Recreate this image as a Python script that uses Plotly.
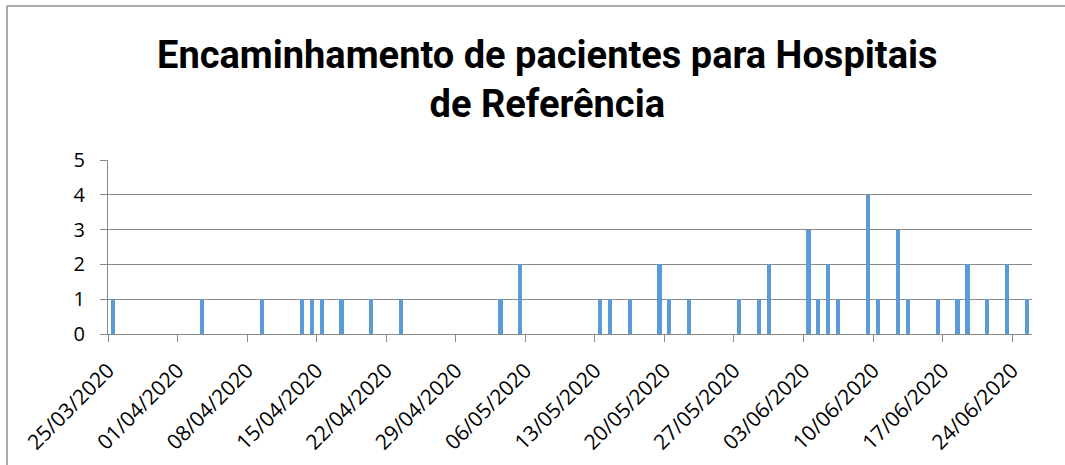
import plotly.graph_objects as go

# Data
dates = [
    "2020-03-25", "2020-04-03", "2020-04-09", "2020-04-13", "2020-04-14",
    "2020-04-15", "2020-04-17", "2020-04-20", "2020-04-23", "2020-05-03",
    "2020-05-05", "2020-05-13", "2020-05-14", "2020-05-16", "2020-05-19",
    "2020-05-20", "2020-05-22", "2020-05-27", "2020-05-29", "2020-05-30",
    "2020-06-03", "2020-06-04", "2020-06-05", "2020-06-06", "2020-06-09",
    "2020-06-10", "2020-06-12", "2020-06-13", "2020-06-16", "2020-06-18",
    "2020-06-19", "2020-06-21", "2020-06-23", "2020-06-25",
]
values = [
    1, 1, 1, 1, 1,
    1, 1, 1, 1, 1,
    2, 1, 1, 1, 2,
    1, 1, 1, 1, 2,
    3, 1, 2, 1, 4,
    1, 3, 1, 1, 1,
    2, 1, 2, 1,
]
tick_dates = [
    "2020-03-25", "2020-04-01", "2020-04-08", "2020-04-15", "2020-04-22",
    "2020-04-29", "2020-05-06", "2020-05-13", "2020-05-20", "2020-05-27",
    "2020-06-03", "2020-06-10", "2020-06-17", "2020-06-24",
]
x_range = ["2020-03-25", "2020-06-26"]
title_text = "Encaminhamento de pacientes para Hospitais<br>de Referência"

DAY_MS = 86400000
GRID = "#8a8a8a"
LABEL_FONT = "Open Sans, Liberation Sans, sans-serif"

# layout geometry (page pixels; body margin removed via post_script)
W, H = 1065, 465
ML, MR, MT, MB = 108, 33, 160, 131
PW = W - ML - MR
PH = H - MT - MB

fig = go.Figure()
fig.add_trace(go.Bar(
    x=dates, y=values,
    xperiod=DAY_MS, xperiodalignment="middle",
    width=0.42 * DAY_MS,
    marker=dict(color="#5B9BD5", line=dict(width=0)),
    hoverinfo="x+y",
))

fig.update_layout(
    width=W, height=H, autosize=False,
    margin=dict(l=ML, r=MR, t=MT, b=MB, autoexpand=False),
    paper_bgcolor="white", plot_bgcolor="white",
    showlegend=False,
    bargap=0,
)

fig.add_annotation(
    text="<b>" + title_text + "</b>",
    xref="paper", yref="paper",
    x=(547 - ML) / PW, y=(MT + PH - 79) / PH,
    xanchor="center", yanchor="middle",
    showarrow=False, align="center",
    font=dict(family="Roboto, sans-serif", size=38, color="black"),
)

fig.update_xaxes(
    type="date", range=x_range, automargin=False,
    tickvals=tick_dates, tickformat="%d/%m/%Y", tickangle=-45,
    ticks="outside", ticklen=7, tickcolor=GRID,
    ticklabelstandoff=8,
    showline=True, linecolor=GRID, linewidth=1,
    showgrid=False, zeroline=False,
    tickfont=dict(family=LABEL_FONT, size=21, color="black"),
)
fig.update_yaxes(
    range=[0, 5], dtick=1, automargin=False,
    ticks="outside", ticklen=7, tickcolor=GRID,
    ticklabelstandoff=11,
    showline=True, linecolor=GRID, linewidth=1,
    showgrid=True, gridcolor=GRID, gridwidth=1.3,
    zeroline=False,
    tickfont=dict(family=LABEL_FONT, size=20, color="black"),
)

# chart border (left and top edges visible in the reference)
fig.add_shape(
    type="line", xref="paper", yref="paper",
    x0=(7 - ML) / PW, x1=(7 - ML) / PW,
    y0=(MT + PH - 480) / PH, y1=(MT + PH - 6) / PH,
    line=dict(color="#8c8c8c", width=1.5), layer="below",
)
fig.add_shape(
    type="line", xref="paper", yref="paper",
    x0=(7 - ML) / PW, x1=(1100 - ML) / PW,
    y0=(MT + PH - 6) / PH, y1=(MT + PH - 6) / PH,
    line=dict(color="#8c8c8c", width=1.5), layer="below",
)

fig.write_html(
    "out.html",
    config={"displayModeBar": False},
    post_script="document.body.style.margin='0';document.body.style.overflow='hidden';",
)
